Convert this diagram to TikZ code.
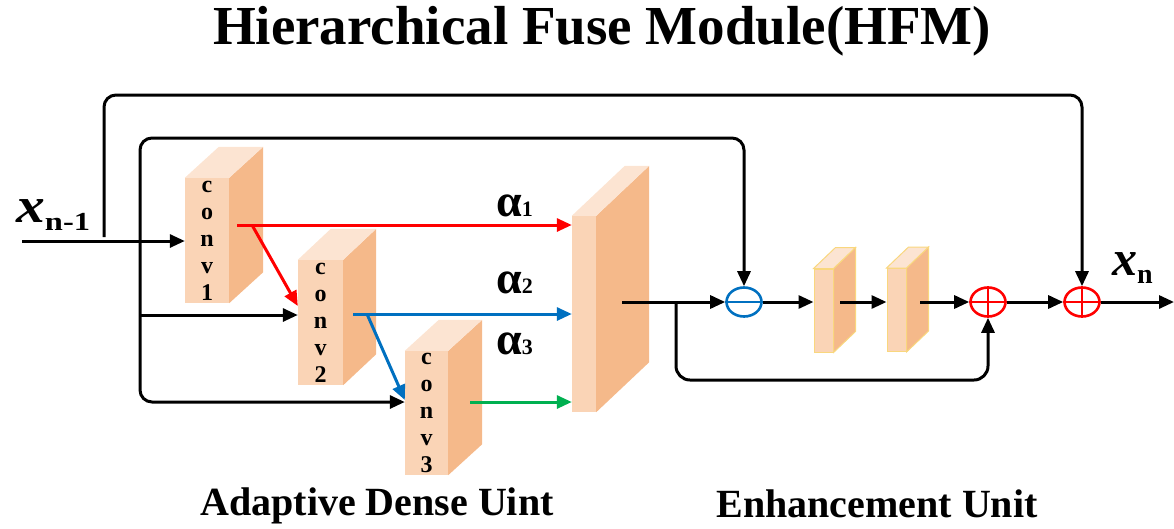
\documentclass[tikz,border=0pt]{standalone}
\usepackage{fontspec}
\setmainfont{Liberation Serif}
\usetikzlibrary{arrows.meta,shapes.geometric}

\definecolor{facefront}{HTML}{FAD4B6}
\definecolor{faceside}{HTML}{F5B98A}
\definecolor{facetop}{HTML}{FCE4D2}
\definecolor{rimyellow}{HTML}{F9D77E}
\definecolor{redline}{HTML}{FF0000}
\definecolor{blueline}{HTML}{0070C0}
\definecolor{greenline}{HTML}{00B050}

\tikzset{
  arr/.style={line width=3pt, -{Triangle[length=15pt,width=13pt]}},
  front/.style={fill=facefront, inner sep=0pt, align=center,
    font=\fontsize{24}{27}\selectfont\bfseries},
  op/.style={ellipse, draw, line width=2.6pt, minimum width=35pt,
    minimum height=29pt, inner sep=0pt},
  heading/.style={font=\fontsize{55}{58}\selectfont\bfseries},
  caption/.style={font=\fontsize{40}{42}\selectfont\bfseries},
}

% side and top faces of a block: [style]{front node}{dx}{dy}
\newcommand{\blockfaces}[4][]{%
  \path[fill=faceside,#1] (#2.north east) -- ([shift={(#3,-#4)}]#2.north east)
    -- ([shift={(#3,-#4)}]#2.south east) -- (#2.south east) -- cycle;
  \path[fill=facetop,#1] (#2.north west) -- ([shift={(#3,-#4)}]#2.north west)
    -- ([shift={(#3,-#4)}]#2.north east) -- (#2.north east) -- cycle;
}

\newcommand{\alphalabel}[1]{\fontsize{46}{46}\selectfont\bfseries
  α{\fontsize{22}{22}\selectfont #1}}

\begin{document}
\begin{tikzpicture}[x=1pt,y=-1pt]
  \useasboundingbox (0,0) rectangle (1174,528);

  \node[heading] (title) at (602,31) {Hierarchical Fuse Module(HFM)};

  % adaptive dense unit
  \node[front, minimum width=44pt, minimum height=125pt] (c1) at (207,240.5) {c\\o\\n\\v\\1};
  \blockfaces{c1}{34}{31}
  \node[front, minimum width=45pt, minimum height=125pt] (c2) at (320.5,322.5) {c\\o\\n\\v\\2};
  \blockfaces{c2}{33}{31}
  \node[front, minimum width=43pt, minimum height=124pt] (c3) at (426.5,413) {c\\o\\n\\v\\3};
  \blockfaces{c3}{34}{31}
  \node[front, minimum width=24pt, minimum height=196pt] (cat) at (584,314) {};
  \blockfaces{cat}{53}{50}

  % enhancement unit
  \node[front, draw=rimyellow, line width=1pt, minimum width=19pt, minimum height=83pt] (e1) at (823.5,310.5) {};
  \blockfaces[draw=rimyellow, line width=1pt]{e1}{22}{21}
  \node[front, draw=rimyellow, line width=1pt, minimum width=19pt, minimum height=83pt] (e2) at (896.5,310) {};
  \blockfaces[draw=rimyellow, line width=1pt]{e2}{22}{21}

  \node[op, draw=blueline] (sub) at (744,302) {};
  \draw[blueline, line width=2.6pt] (sub.west) -- (sub.east);
  \node[op, draw=redline] (add1) at (988,302) {};
  \draw[redline, line width=2.6pt] (add1.west) -- (add1.east) (add1.north) -- (add1.south);
  \node[op, draw=redline] (add2) at (1082,302) {};
  \draw[redline, line width=2.6pt] (add2.west) -- (add2.east) (add2.north) -- (add2.south);

  % labels
  \node[anchor=base west, inner sep=0pt] (xin) at (16,222) {\fontsize{50}{50}\selectfont\bfseries\itshape
    \scalebox{1.15}[1]{x}\raisebox{-8pt}{\scalebox{1.25}[1]{\fontsize{26}{26}\selectfont\upshape n-1}}};
  \node[anchor=base west, inner sep=0pt] (xout) at (1112,275) {\fontsize{50}{50}\selectfont\bfseries\itshape
    x\raisebox{-8pt}{\fontsize{28}{28}\selectfont\upshape n}};
  \node[anchor=base west, inner sep=0pt] (a1) at (496,216) {\alphalabel{1}};
  \node[anchor=base west, inner sep=0pt] (a2) at (496,293) {\alphalabel{2}};
  \node[anchor=base west, inner sep=0pt] (a3) at (496,354) {\alphalabel{3}};
  \node[caption] (adu) at (377,506) {Adaptive Dense Uint};
  \node[caption] (enu) at (877,504) {Enhancement Unit};

  % connector ends and bends
  \coordinate (in) at (22,241);
  \coordinate (s1) at (104,237);
  \coordinate (t1) at (104,95);
  \coordinate (d1) at (140,241);
  \coordinate (t2) at (140,138);
  \coordinate (d2) at (140,315);
  \coordinate (b2) at (140,402);
  \coordinate (o1) at (237,225);
  \coordinate (o1b) at (252,225);
  \coordinate (o2) at (353,314);
  \coordinate (o2b) at (367,314);
  \coordinate (o3) at (470,402);
  \coordinate (ocat) at (622,302);
  \coordinate (br) at (676,302);
  \coordinate (b3) at (676,380);
  \coordinate (oe1) at (840,302);
  \coordinate (oe2) at (920,302);
  \coordinate (out) at (1174,302);

  \draw[arr] (in) -- (c1.west |- in);
  \draw[arr, rounded corners=12pt] (s1) -- (t1) -- (t1 -| add2) -- (add2.north);
  \draw[arr, rounded corners=12pt] (d1) -- (t2) -- (t2 -| sub) -- (sub.north);
  \draw[arr, rounded corners=12pt] (d1) -- (b2) -- (b2 -| c3.west);
  \draw[arr] (d2) -- (d2 -| c2.west);

  \draw[arr, redline] (o1) -- (o1 -| cat.west);
  \draw[arr, redline] (o1b) -- (c2.west |- 0,306);
  \draw[arr, blueline] (o2) -- (o2 -| cat.west);
  \draw[arr, blueline] (o2b) -- (c3.west |- 0,400);
  \draw[arr, greenline] (o3) -- (o3 -| cat.west);

  \draw[arr] (ocat) -- (sub.west);
  \draw[arr, rounded corners=14pt] (br) -- (b3) -- (b3 -| add1) -- (add1.south);
  \draw[arr] (sub.east) -- (e1.west |- sub);
  \draw[arr] (oe1) -- (e2.west |- oe1);
  \draw[arr] (oe2) -- (add1.west);
  \draw[arr] (add1.east) -- (add2.west);
  \draw[arr] (add2.east) -- (out);
\end{tikzpicture}
\end{document}
